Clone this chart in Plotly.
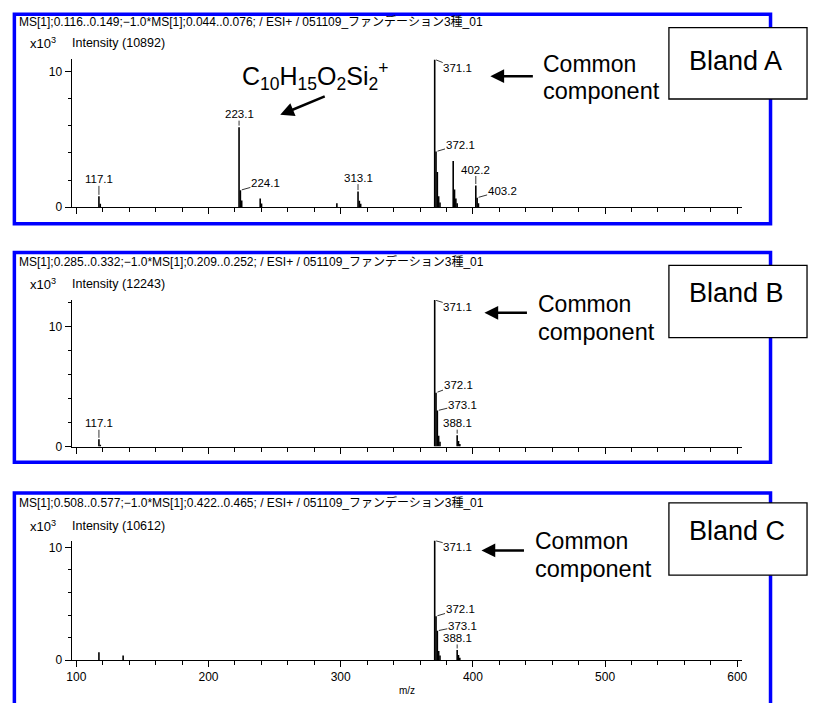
import plotly.graph_objects as go

W, H = 815, 703

# ---------------- data (m/z, intensity in counts) ----------------
mz_a = [117.1, 118.1, 223.1, 224.1, 225.1, 239.1, 240.1, 297.1, 313.1, 314.1, 315.1,
        371.1, 372.1, 373.1, 374.1, 375.1, 385.1, 386.1, 387.1, 388.1, 402.2, 403.2, 404.2]
int_a = [800, 250, 5900, 1250, 500, 650, 280, 300, 1150, 480, 250,
         10892, 4100, 2600, 800, 350, 3400, 1300, 650, 300, 1600, 700, 300]

mz_b = [117.1, 118.1, 371.1, 372.1, 373.1, 374.1, 375.1, 388.1, 389.1, 390.1]
int_b = [600, 150, 12243, 4500, 3000, 900, 400, 950, 450, 200]

mz_c = [117.1, 135.4, 371.1, 372.1, 373.1, 374.1, 375.1, 388.1, 389.1, 390.1]
int_c = [700, 400, 10612, 3900, 2600, 800, 400, 900, 450, 200]

# peak labels: (m/z, text, dx px, dy px)
labels_a = [(117.1, "117.1", 0, -17), (223.1, "223.1", 0, -13), (224.1, "224.1", 25, -7),
            (313.1, "313.1", 0, -14), (371.1, "371.1", 23, 9), (372.1, "372.1", 24, -7),
            (402.2, "402.2", 0, -16), (403.2, "403.2", 25, -7)]
labels_b = [(117.1, "117.1", 0, -16), (371.1, "371.1", 23, 7), (372.1, "372.1", 22, -8),
            (373.1, "373.1", 25, -6), (388.1, "388.1", 0, -12)]
labels_c = [(371.1, "371.1", 23, 6), (372.1, "372.1", 24, -7),
            (373.1, "373.1", 25, -5), (388.1, "388.1", 0, -12)]

titles = ["MS[1];0.116..0.149;−1.0*MS[1];0.044..0.076; / ESI+ / 051109_ファンデーション3種_01",
          "MS[1];0.285..0.332;−1.0*MS[1];0.209..0.252; / ESI+ / 051109_ファンデーション3種_01",
          "MS[1];0.508..0.577;−1.0*MS[1];0.422..0.465; / ESI+ / 051109_ファンデーション3種_01"]
max_int = [10892, 12243, 10612]
brands = ["Bland A", "Bland B", "Bland C"]
x_ticks = [100, 200, 300, 400, 500, 600]

# ---------------- layout geometry (pixels) ----------------
def px(x):
    return x / W

def py(y):
    return 1 - y / H

x_left, x_right = 67.5, 747
x100, x600 = 72.3, 742.3
sc = (x600 - x100) / 500
xr = [100 - (x100 - x_left) / sc, 600 + (x_right - x600) / sc]

panels = [
    dict(y0=209.3, ytop=60, frame=(9.5, 14.5, 776, 226), box=(673, 28, 813, 100),
         title_y=22, int_y=43, bland_y=62, common_y=(65, 92), arrow=(492, 77)),
    dict(y0=451, ytop=303, frame=(9.5, 255, 776, 467), box=(673, 268, 813, 341),
         title_y=264, int_y=287, bland_y=296, common_y=(307, 335), arrow=(486, 316)),
    dict(y0=666.7, ytop=546, frame=(9.5, 498, 776, 720), box=(673, 508, 813, 581),
         title_y=508, int_y=531, bland_y=536, common_y=(546, 575), arrow=(483, 556)),
]

FONT = "Liberation Sans, Arial, Noto Sans CJK JP"

fig = go.Figure()
layout = dict(width=W, height=H, margin=dict(l=0, r=0, t=0, b=0),
              paper_bgcolor="white", plot_bgcolor="white", showlegend=False,
              font=dict(family=FONT, color="black", size=11))

datasets = [(mz_a, int_a, labels_a), (mz_b, int_b, labels_b), (mz_c, int_c, labels_c)]
annotations = []
shapes = []

for i, (mzs, ints, labs) in enumerate(datasets):
    n = "" if i == 0 else str(i + 1)
    p = panels[i]
    xs, ys = [], []
    for m, v in zip(mzs, ints):
        xs += [m, m, None]
        ys += [0, v / 1000, None]
    fig.add_trace(go.Scatter(x=xs, y=ys, mode="lines", xaxis="x" + n, yaxis="y" + n,
                             line=dict(color="black", width=1.6), hoverinfo="skip"))
    last = i == 2
    layout["xaxis" + n] = dict(domain=[px(x_left), px(x_right)], range=xr, anchor="y" + n,
                               showgrid=False, zeroline=False, showline=True, linecolor="black",
                               linewidth=1, ticks="outside", ticklen=6, tickcolor="black",
                               tickvals=x_ticks, showticklabels=last,
                               tickfont=dict(size=12, family=FONT),
                               minor=dict(dtick=20, tick0=0, ticks="outside", ticklen=4,
                                          tickcolor="black", showgrid=False))
    layout["yaxis" + n] = dict(domain=[py(p["y0"]), py(p["ytop"])], range=[0, max_int[i] / 1000],
                               anchor="x" + n, showgrid=False, zeroline=False, showline=True,
                               linecolor="black", linewidth=1, ticks="outside", ticklen=6,
                               tickcolor="black", tickvals=[0, 10], ticktext=["0", "10"],
                               tickfont=dict(size=12, family=FONT),
                               minor=dict(dtick=2, tick0=0, ticks="outside", ticklen=3,
                                          tickcolor="black", showgrid=False))
    # peak labels
    lookup = dict(zip(mzs, ints))
    for m, t, dx, dy in labs:
        annotations.append(dict(x=m, y=lookup[m] / 1000, xref="x" + n, yref="y" + n, text=t,
                                showarrow=True, arrowhead=0, arrowwidth=0.8, arrowcolor="black",
                                ax=dx, ay=dy, axref="pixel", ayref="pixel", standoff=1.5,
                                font=dict(size=11.5, family=FONT), borderpad=0))
    # frames
    fx0, fy0, fx1, fy1 = p["frame"]
    shapes.append(dict(type="rect", xref="paper", yref="paper", x0=px(fx0), x1=px(fx1),
                       y0=py(fy1), y1=py(fy0), line=dict(color="#0000FF", width=3.5)))
    bx0, by0, bx1, by1 = p["box"]
    shapes.append(dict(type="rect", xref="paper", yref="paper", x0=px(bx0), x1=px(bx1),
                       y0=py(by1), y1=py(by0), line=dict(color="black", width=1.3),
                       fillcolor="white"))
    # texts
    annotations.append(dict(x=px(12), y=py(p["title_y"]), xref="paper", yref="paper",
                            text=titles[i], showarrow=False, xanchor="left", yanchor="middle",
                            font=dict(size=12, family=FONT)))
    annotations.append(dict(x=px(23), y=py(p["int_y"]), xref="paper", yref="paper",
                            text="x10<sup>3</sup>", showarrow=False, xanchor="left",
                            yanchor="middle", font=dict(size=13, family=FONT)))
    annotations.append(dict(x=px(66), y=py(p["int_y"]), xref="paper", yref="paper",
                            text="Intensity (%d)" % max_int[i], showarrow=False,
                            xanchor="left", yanchor="middle", font=dict(size=12.5, family=FONT)))
    annotations.append(dict(x=px(691), y=py(p["bland_y"]), xref="paper", yref="paper",
                            text=brands[i], showarrow=False, xanchor="left", yanchor="middle",
                            font=dict(size=27, family="Liberation Sans, Arial")))
    cx = 543 if i == 0 else (538 if i == 1 else 535)
    annotations.append(dict(x=px(cx), y=py(p["common_y"][0]), xref="paper", yref="paper",
                            text="Common", showarrow=False, xanchor="left", yanchor="middle",
                            font=dict(size=23, family="Liberation Sans, Arial")))
    annotations.append(dict(x=px(cx), y=py(p["common_y"][1]), xref="paper", yref="paper",
                            text="component", showarrow=False, xanchor="left", yanchor="middle",
                            font=dict(size=23.5, family="Liberation Sans, Arial")))
    ahx, ahy = p["arrow"]
    annotations.append(dict(x=px(ahx), y=py(ahy), xref="paper", yref="paper", text="",
                            showarrow=True, arrowhead=2, arrowsize=1.1, arrowwidth=2.5,
                            arrowcolor="black", ax=44, ay=0))

# formula and its arrow (panel A)
annotations.append(dict(x=px(238), y=py(77), xref="paper", yref="paper",
                        text="C<sub>10</sub>H<sub>15</sub>O<sub>2</sub>Si<sub>2</sub><sup>+</sup>",
                        showarrow=False, xanchor="left", yanchor="middle",
                        font=dict(size=25, family="Liberation Sans, Arial")))
annotations.append(dict(x=px(279), y=py(116), xref="paper", yref="paper", text="",
                        showarrow=True, arrowhead=2, arrowsize=1.1, arrowwidth=2.5,
                        arrowcolor="black", ax=46, ay=-19))
# x-axis title
annotations.append(dict(x=px(408), y=py(697), xref="paper", yref="paper", text="m/z",
                        showarrow=False, xanchor="center", yanchor="middle",
                        font=dict(size=10, family=FONT)))

layout["annotations"] = annotations
layout["shapes"] = shapes
fig.update_layout(**layout)
post = ("document.documentElement.style.margin='0';"
        "document.documentElement.style.overflow='hidden';"
        "document.body.style.margin='0';"
        "document.body.style.overflow='hidden';"
        "var gd=document.getElementById('{plot_id}');"
        "gd.style.overflow='hidden';"
        "gd.querySelectorAll('.svg-container').forEach(function(e){e.style.display='block';"
        "e.style.verticalAlign='top';});")
fig.write_html("out.html", config={"displayModeBar": False}, post_script=post)
